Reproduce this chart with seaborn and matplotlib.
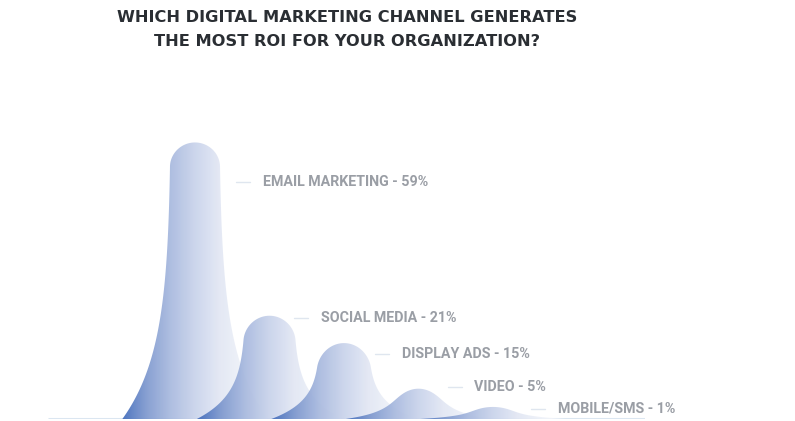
import numpy as np
import matplotlib
matplotlib.use("Agg")
import matplotlib.pyplot as plt
from matplotlib.path import Path
from matplotlib.patches import PathPatch
import seaborn as sns

# ---- data ----
channels = ["EMAIL MARKETING", "SOCIAL MEDIA", "DISPLAY ADS", "VIDEO", "MOBILE/SMS"]
shares = [59, 21, 15, 5, 1]
title_lines = ["WHICH DIGITAL MARKETING CHANNEL GENERATES",
               "THE MOST ROI FOR YOUR ORGANIZATION?"]

# ---- layout (label placement, in axis units) ----
label_dx = [0.91, 0.69, 0.78, 0.75, 0.87]
label_y = [50.3, 20.5, 12.6, 5.4, 0.55]

sns.set_theme(style="white")
plt.rcParams['font.family'] = ['Roboto', 'DejaVu Sans']

W, H = 795, 421
fig = plt.figure(figsize=(W / 100, H / 100), dpi=100)
fig.patch.set_facecolor("white")
left_px, right_px, bottom_px, top_px = 48, 645, 419, 100
ax = fig.add_axes([left_px / W, 1 - bottom_px / H,
                   (right_px - left_px) / W, (bottom_px - top_px) / H])
ax.set_facecolor("white")

foot = 1.645          # the curved feet sink slightly below zero
x0_px, step_px, ypx_per_unit = 195, 74.5, 4.56
xlim = ((left_px - x0_px) / step_px, (right_px - x0_px) / step_px)
ylim = (-foot, (411.5 - top_px) / ypx_per_unit)

cmap = sns.blend_palette(["#416bbb", "#7f99cf", "#a9badf", "#c9d3eb",
                          "#e2e7f4", "#eff2f9", "#f7f8fc"], as_cmap=True)
grad = np.linspace(0, 1, 256).reshape(1, -1)

top_hw, flare_hw, flare_len = 0.32, 0.655, 0.245
cap_px = 24.0
base_hw = top_hw + flare_hw

def outline(c, v):
    bottom = -foot
    h = v - bottom
    h_px = h * ypx_per_unit
    s0 = max(0.0, 1 - cap_px / h_px)
    s = np.concatenate([np.linspace(0, s0, 120, endpoint=False),
                        s0 + (1 - s0) * np.sin(np.linspace(0, np.pi / 2, 120))])
    cap = np.ones_like(s)
    m = s > s0
    cap[m] = np.sqrt(np.clip(1 - ((s[m] - s0) / (1 - s0)) ** 2, 0, 1))
    hw = (top_hw + flare_hw * np.exp(-s / flare_len)) * cap
    y = bottom + s * h
    xs = np.concatenate([c - hw, (c + hw)[::-1]])
    ys = np.concatenate([y, y[::-1]])
    verts = np.column_stack([xs, ys])
    verts = np.vstack([verts, verts[:1]])
    codes = [Path.MOVETO] + [Path.LINETO] * (len(verts) - 2) + [Path.CLOSEPOLY]
    return Path(verts, codes)

ax.plot(xlim, [-foot, -foot], color="#dbe6f1", lw=2.2, zorder=1, solid_capstyle="butt")

for i, (name, v) in enumerate(zip(channels, shares)):
    c = i
    patch = PathPatch(outline(c, v), facecolor="none", edgecolor="none", zorder=2 + i)
    ax.add_patch(patch)
    im = ax.imshow(grad, cmap=cmap, aspect="auto", alpha=0.93,
                   extent=[c - base_hw, c + base_hw, -foot, v],
                   interpolation="bilinear", zorder=2 + i)
    im.set_clip_path(patch)

    tx = c + label_dx[i]
    ax.plot([tx - 0.36, tx - 0.17], [label_y[i], label_y[i]], color="#dfe6ef", lw=1, zorder=10)
    ax.text(tx, label_y[i], f"{name} - {v}%", ha="left", va="center",
            fontsize=10.3, fontweight="bold", color="#9a9ea5", zorder=10)

ax.set_xlim(*xlim)
ax.set_ylim(*ylim)
ax.set_axis_off()

for k, line in enumerate(title_lines):
    fig.text(347.5 / W, 1 - (18 + 24 * k) / H, line, ha="center", va="center",
             fontsize=11.7, fontweight="bold", color="#2a2e33",
             family=["DejaVu Sans"])

fig.savefig("out.png", dpi=100, facecolor="white")
